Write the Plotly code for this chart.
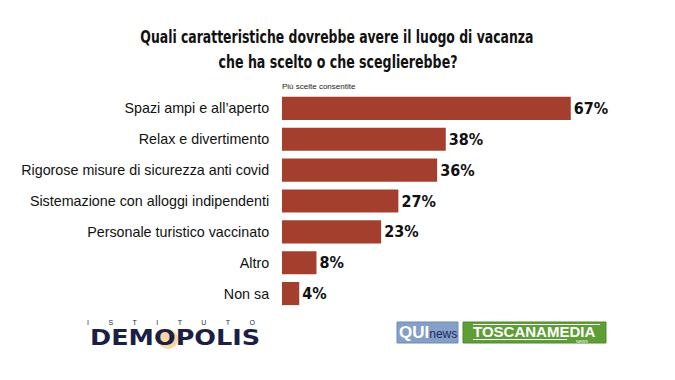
import plotly.graph_objects as go

categories = [
    "Spazi ampi e all\u2019aperto",
    "Relax e divertimento",
    "Rigorose misure di sicurezza anti covid",
    "Sistemazione con alloggi indipendenti",
    "Personale turistico vaccinato",
    "Altro",
    "Non sa",
]
values = [67, 38, 36, 27, 23, 8, 4]
labels = [f"{v}%" for v in values]

title_lines = [
    "Quali caratteristiche dovrebbe avere il luogo di vacanza",
    "che ha scelto o che sceglierebbe?",
]
subtitle = "Pi\u00f9 scelte consentite"

W, H = 675, 380
BAR_COLOR = "#a53f2d"

fig = go.Figure(go.Bar(
    x=values,
    y=categories,
    orientation="h",
    marker=dict(color=BAR_COLOR, line=dict(width=0)),
    text=labels,
    textposition="outside",
    textfont=dict(family="DejaVu Sans Condensed, DejaVu Sans", size=16, color="#111111", weight="bold"),
    cliponaxis=False,
    width=0.75,
    hoverinfo="skip",
))

fig.update_layout(
    width=W, height=H,
    margin=dict(l=0, r=0, t=0, b=0),
    paper_bgcolor="white",
    plot_bgcolor="white",
    showlegend=False,
    xaxis=dict(domain=[282 / W, 620 / W], range=[0, 338 / 4.31], visible=False, fixedrange=True),
    yaxis=dict(
        domain=[1 - 309 / H, 1 - 93 / H],
        autorange="reversed",
        showgrid=False, zeroline=False, showline=False,
        ticks="outside", ticklen=9, tickcolor="rgba(0,0,0,0)",
        tickfont=dict(family="Liberation Sans, Arial", size=14.3, color="#111111"),
        fixedrange=True,
    ),
    font=dict(family="Liberation Sans, Arial"),
)

title_font = dict(family="DejaVu Sans Condensed, DejaVu Sans", size=17, color="#111111", weight="bold")
fig.add_annotation(text=title_lines[0],
                   x=337 / W, y=1 - 37 / H, xref="paper", yref="paper", showarrow=False,
                   font=title_font, xanchor="center", yanchor="middle")
fig.add_annotation(text=title_lines[1],
                   x=338 / W, y=1 - 62 / H, xref="paper", yref="paper", showarrow=False,
                   font=title_font, xanchor="center", yanchor="middle")
fig.add_annotation(text=subtitle,
                   x=280 / W, y=1 - 86 / H, xref="paper", yref="paper", showarrow=False,
                   font=dict(family="Liberation Sans", size=8, color="#222222"),
                   xanchor="left", yanchor="middle")

# Demopolis logo
fig.add_shape(type="circle", xref="paper", yref="paper",
              x0=158 / W, x1=178 / W, y0=1 - 349 / H, y1=1 - 329 / H,
              fillcolor="#f3a53c", opacity=0.45, line=dict(width=0), layer="below")
sp = "&nbsp;" * 10
fig.add_annotation(text=sp.join("ISTITUTO"),
                   x=171 / W, y=1 - 322 / H, xref="paper", yref="paper", showarrow=False,
                   font=dict(family="Liberation Sans", size=7, color="#1c1f45"),
                   xanchor="center", yanchor="middle")
fig.add_annotation(text="DEMOPOLIS",
                   x=175 / W, y=1 - 338 / H, xref="paper", yref="paper", showarrow=False,
                   font=dict(family="DejaVu Sans", size=21, color="#1c1f45", weight="bold"),
                   xanchor="center", yanchor="middle")

# QUInews logo
fig.add_shape(type="rect", xref="paper", yref="paper",
              x0=397 / W, x1=458 / W, y0=1 - 343 / H, y1=1 - 322 / H,
              fillcolor="#849fc8", line=dict(color="#6f8bb8", width=1), layer="below")
fig.add_annotation(text="<b>QUI</b><span style='font-size:12px;color:#1d2b5c'>news</span>",
                   x=427.5 / W, y=1 - 332.5 / H, xref="paper", yref="paper", showarrow=False,
                   font=dict(family="Liberation Sans", size=17, color="white"),
                   xanchor="center", yanchor="middle")
# TOSCANAMEDIA logo
fig.add_shape(type="rect", xref="paper", yref="paper",
              x0=463 / W, x1=606 / W, y0=1 - 343 / H, y1=1 - 322 / H,
              fillcolor="#5e9e36", line=dict(color="#4f8a2c", width=1), layer="below")
fig.add_shape(type="line", xref="paper", yref="paper",
              x0=473 / W, x1=600 / W, y0=1 - 324.5 / H, y1=1 - 324.5 / H,
              line=dict(color="white", width=1))
fig.add_shape(type="line", xref="paper", yref="paper",
              x0=473 / W, x1=567 / W, y0=1 - 339.5 / H, y1=1 - 339.5 / H,
              line=dict(color="white", width=1))
fig.add_annotation(text="TOSCANAMEDIA",
                   x=533.5 / W, y=1 - 331 / H, xref="paper", yref="paper", showarrow=False,
                   font=dict(family="Liberation Sans", size=15, color="white", weight="bold"),
                   xanchor="center", yanchor="middle")
fig.add_annotation(text="NEWS",
                   x=582 / W, y=1 - 341.5 / H, xref="paper", yref="paper", showarrow=False,
                   font=dict(family="Liberation Sans", size=4, color="white"),
                   xanchor="center", yanchor="middle")

post = """
document.body.style.margin = '0px';
var fit = {};
fit[%s] = 393;
fit[%s] = 239;
fit['DEMOPOLIS'] = 170;
document.querySelectorAll('text.annotation-text').forEach(function(t) {
  var k = t.textContent;
  if (fit[k]) {
    t.setAttribute('textLength', fit[k]);
    t.setAttribute('lengthAdjust', 'spacingAndGlyphs');
  }
});
""" % (repr(title_lines[0]), repr(title_lines[1]))

fig.write_html("out.html", post_script=post, config={"displayModeBar": False})
